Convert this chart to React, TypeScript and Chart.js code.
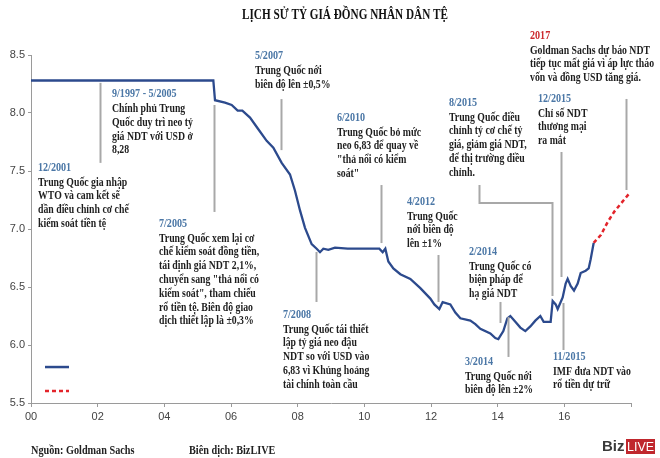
import React, { useEffect, useRef } from "react";
import { Chart, registerables } from "chart.js";

Chart.register(...registerables);

// ---- Data ----
const actualYears = [
  2000.0, 2005.47, 2005.52, 2005.82, 2006.02, 2006.2, 2006.34, 2006.57, 2006.82, 2007.07,
  2007.27, 2007.52, 2007.77, 2007.92, 2008.07, 2008.22, 2008.42, 2008.57, 2008.67, 2008.77,
  2008.92, 2009.12, 2009.5, 2010.0, 2010.45, 2010.55, 2010.63, 2010.72, 2010.87, 2011.08,
  2011.38, 2011.68, 2011.98, 2012.1, 2012.25, 2012.35, 2012.58, 2012.73, 2012.88, 2013.18,
  2013.33, 2013.48, 2013.78, 2013.93, 2014.02, 2014.17, 2014.29, 2014.38, 2014.53, 2014.68,
  2014.83, 2014.98, 2015.13, 2015.28, 2015.38, 2015.59, 2015.65, 2015.74, 2015.8, 2015.95,
  2016.04, 2016.1, 2016.19, 2016.29, 2016.4, 2016.49, 2016.64, 2016.73, 2016.79, 2016.88,
];
const actualRates = [
  8.28, 8.28, 8.11, 8.09, 8.07, 8.02, 8.02, 7.96, 7.86, 7.76,
  7.70, 7.57, 7.47, 7.33, 7.16, 7.01, 6.87, 6.83, 6.80, 6.83,
  6.82, 6.84, 6.83, 6.83, 6.83, 6.80, 6.83, 6.72, 6.66, 6.61,
  6.57, 6.49, 6.40, 6.35, 6.31, 6.37, 6.35, 6.28, 6.23, 6.21,
  6.18, 6.14, 6.10, 6.06, 6.05, 6.12, 6.23, 6.25, 6.20, 6.15,
  6.12, 6.16, 6.21, 6.25, 6.20, 6.20, 6.38, 6.35, 6.31, 6.41,
  6.53, 6.57, 6.51, 6.47, 6.53, 6.62, 6.64, 6.66, 6.74, 6.88,
];
const forecastYears = [2016.88, 2017.1, 2017.3, 2017.5, 2017.7, 2017.93];
const forecastRates = [6.88, 6.95, 7.06, 7.15, 7.22, 7.30];

const yTicks = [5.5, 6.0, 6.5, 7.0, 7.5, 8.0, 8.5];
const xTickLabels = ["00", "02", "04", "06", "08", "10", "12", "14", "16", ""];

const titleText = "LỊCH SỬ TỶ GIÁ ĐỒNG NHÂN DÂN TỆ";
const sourceText = "Nguồn: Goldman Sachs";
const translatorText = "Biên dịch: BizLIVE";

// Annotations (anchored in data coordinates: year, rate)
const notes = [
  { date: "9/1997 - 5/2005", x: 2002.43, y: 8.16, lines: ["Chính phủ Trung", "Quốc duy trì neo tỷ", "giá NDT với USD ở", "8,28"] },
  { date: "12/2001", x: 2000.21, y: 7.526, lines: ["Trung Quốc gia nhập", "WTO và cam kết sẽ", "dần điều chỉnh cơ chế", "kiểm soát tiền tệ"] },
  { date: "5/2007", x: 2006.72, y: 8.49, lines: ["Trung Quốc nới", "biên độ lên ±0,5%"] },
  { date: "7/2005", x: 2003.84, y: 7.043, lines: ["Trung Quốc xem lại cơ", "chế kiểm soát đồng tiền,", "tái định giá NDT 2,1%,", "chuyển sang \"thả nổi có", "kiểm soát\", tham chiếu", "rổ tiền tệ. Biên độ giao", "dịch thiết lập là ±0,3%"] },
  { date: "6/2010", x: 2009.18, y: 7.957, lines: ["Trung Quốc bỏ mức", "neo 6,83 để quay về", "\"thả nổi có kiểm", "soát\""] },
  { date: "4/2012", x: 2011.28, y: 7.233, lines: ["Trung Quốc", "nới biên độ", "lên ±1%"] },
  { date: "8/2015", x: 2012.54, y: 8.086, lines: ["Trung Quốc điều", "chỉnh tỷ cơ chế tỷ", "giá, giảm giá NDT,", "để thị trường điều", "chỉnh."] },
  { date: "12/2015", x: 2015.21, y: 8.121, lines: ["Chỉ số NDT", "thương mại", "ra mắt"] },
  { date: "2017", x: 2014.97, y: 8.664, lines: ["Goldman Sachs dự báo NDT", "tiếp tục mất giá vì áp lực tháo", "vốn và đồng USD tăng giá."], red: true },
  { date: "7/2008", x: 2007.56, y: 6.259, lines: ["Trung Quốc tái thiết", "lập tỷ giá neo đậu", "NDT so với USD vào", "6,83 vì Khủng hoảng", "tài chính toàn cầu"] },
  { date: "2/2014", x: 2013.14, y: 6.802, lines: ["Trung Quốc có", "biện pháp để", "hạ giá NDT"] },
  { date: "3/2014", x: 2013.02, y: 5.853, lines: ["Trung Quốc nới", "biên độ lên ±2%"] },
  { date: "11/2015", x: 2015.66, y: 5.897, lines: ["IMF đưa NDT vào", "rổ tiền dự trữ"] },
];

// Leader lines (polylines in data coordinates)
const leaders: number[][][] = [
  [[2002.07, 8.26], [2002.07, 7.57]],
  [[2007.5, 8.12], [2007.5, 7.68]],
  [[2005.49, 8.069], [2005.49, 7.147]],
  [[2010.5, 7.379], [2010.5, 6.879]],
  [[2012.21, 6.776], [2012.21, 6.371]],
  [[2013.44, 7.379], [2013.44, 7.224], [2015.63, 7.224], [2015.63, 6.422]],
  [[2015.9, 7.664], [2015.9, 6.586]],
  [[2017.85, 8.121], [2017.85, 7.336]],
  [[2008.55, 6.802], [2008.55, 6.371]],
  [[2014.07, 6.371], [2014.07, 6.19]],
  [[2014.31, 6.241], [2014.31, 5.897]],
  [[2015.96, 6.362], [2015.96, 5.957]],
];

const legendYears = [2000.42, 2001.14];
const legendRates = [5.81, 5.603];

const BLUE = "#2c4a8d";
const RED = "#e3242b";
const HEAD = "#4b77a6";
const TEXT = "#1e1e1e";
const FONT = "'Liberation Serif', serif";

function drawCondensed(ctx: CanvasRenderingContext2D, text: string, x: number, y: number, sx: number) {
  ctx.save();
  ctx.translate(x, y);
  ctx.scale(sx, 1);
  ctx.fillText(text, 0, 0);
  ctx.restore();
}

const decorPlugin = {
  id: "decor",
  afterDatasetsDraw(chart: any) {
    const ctx = chart.ctx as CanvasRenderingContext2D;
    const xs = chart.scales.x;
    const ys = chart.scales.y;
    ctx.save();
    // leaders
    ctx.strokeStyle = "#a8a8a8";
    ctx.lineWidth = 2;
    for (const poly of leaders) {
      ctx.beginPath();
      poly.forEach((p, i) => {
        const px = Math.round(xs.getPixelForValue(p[0])) + 0.5;
        const py = ys.getPixelForValue(p[1]);
        if (i === 0) ctx.moveTo(px, py);
        else ctx.lineTo(px, py);
      });
      ctx.stroke();
    }
    // legend swatches
    const lx0 = xs.getPixelForValue(legendYears[0]);
    const lx1 = xs.getPixelForValue(legendYears[1]);
    ctx.lineWidth = 2.5;
    ctx.strokeStyle = BLUE;
    ctx.beginPath();
    ctx.moveTo(lx0, ys.getPixelForValue(legendRates[0]));
    ctx.lineTo(lx1, ys.getPixelForValue(legendRates[0]));
    ctx.stroke();
    ctx.strokeStyle = RED;
    ctx.setLineDash([4, 3]);
    ctx.beginPath();
    ctx.moveTo(lx0, ys.getPixelForValue(legendRates[1]));
    ctx.lineTo(lx1, ys.getPixelForValue(legendRates[1]));
    ctx.stroke();
    ctx.setLineDash([]);

    // annotation texts
    ctx.textBaseline = "middle";
    ctx.textAlign = "left";
    for (const n of notes) {
      const px = xs.getPixelForValue(n.x);
      const py = ys.getPixelForValue(n.y);
      ctx.font = `bold 11.5px ${FONT}`;
      ctx.fillStyle = (n as any).red ? "#cc2a2e" : HEAD;
      drawCondensed(ctx, n.date, px, py, 0.88);
      ctx.fillStyle = TEXT;
      ctx.font = `bold 12px ${FONT}`;
      n.lines.forEach((l, i) => {
        drawCondensed(ctx, l, px, py + 14.5 + i * 13.8, 0.815);
      });
    }

    // title
    ctx.textAlign = "center";
    ctx.font = `bold 14.5px ${FONT}`;
    ctx.fillStyle = "#111";
    ctx.fillText(titleText, 345, 15, 206);

    // footer
    ctx.textAlign = "left";
    ctx.font = `bold 11.5px ${FONT}`;
    ctx.fillStyle = "#222";
    drawCondensed(ctx, sourceText, 31, 451, 0.89);
    drawCondensed(ctx, translatorText, 189, 451, 0.89);

    // logo
    ctx.font = "bold 15px 'Liberation Sans', sans-serif";
    ctx.fillStyle = "#3a3a3a";
    ctx.textAlign = "left";
    ctx.fillText("Biz", 602, 447);
    ctx.fillStyle = "#c0272d";
    ctx.fillRect(626, 439, 29, 15);
    ctx.fillStyle = "#fff";
    ctx.font = "13px 'Liberation Sans', sans-serif";
    ctx.fillText("LIVE", 627, 447, 27);
    ctx.restore();
  },
};

export default function App() {
  const ref = useRef<HTMLCanvasElement | null>(null);
  useEffect(() => {
    if (!ref.current) return;
    const actual = actualYears.map((x, i) => ({ x, y: actualRates[i] }));
    const forecast = forecastYears.map((x, i) => ({ x, y: forecastRates[i] }));
    const chart = new Chart(ref.current, {
      type: "line",
      data: {
        datasets: [
          { data: actual, borderColor: BLUE, borderWidth: 2.3, pointRadius: 0, tension: 0, fill: false },
          { data: forecast, borderColor: RED, borderWidth: 2.5, borderDash: [4, 3], pointRadius: 0, tension: 0, fill: false },
        ],
      },
      options: {
        responsive: false,
        animation: false,
        devicePixelRatio: 1,
        layout: { padding: { top: 55, right: 29, left: 0, bottom: 0 } },
        plugins: { legend: { display: false }, tooltip: { enabled: false }, title: { display: false } },
        scales: {
          x: {
            type: "linear",
            min: 2000,
            max: 2018,
            afterFit: (s: any) => { s.height = 55; },
            afterBuildTicks: (s: any) => {
              s.ticks = xTickLabels.map((_, i) => ({ value: 2000 + i * 2 }));
            },
            ticks: {
              autoSkip: false,
              maxRotation: 0,
              padding: 3,
              color: "#444",
              font: { family: "'Liberation Sans', sans-serif", size: 11 },
              callback: (v: any, i: number) => xTickLabels[i] ?? "",
            },
            grid: { drawOnChartArea: false, drawTicks: true, tickLength: 4, color: "#9a9a9a" },
            border: { display: true, color: "#9a9a9a" },
          },
          y: {
            type: "linear",
            min: 5.5,
            max: 8.5,
            afterFit: (s: any) => { s.width = 31; },
            afterBuildTicks: (s: any) => {
              s.ticks = yTicks.map((v) => ({ value: v }));
            },
            ticks: {
              padding: 3,
              color: "#444",
              font: { family: "'Liberation Sans', sans-serif", size: 11 },
              callback: (v: any) => Number(v).toFixed(1),
            },
            grid: { drawOnChartArea: false, drawTicks: true, tickLength: 3, color: "#9a9a9a" },
            border: { display: true, color: "#9a9a9a" },
          },
        },
      },
      plugins: [decorPlugin],
    } as any);
    return () => chart.destroy();
  }, []);
  return (
    <div style={{ position: "fixed", left: 0, top: 0, width: 660, height: 458, background: "#fff" }}>
      <canvas ref={ref} width={660} height={458} style={{ width: 660, height: 458, display: "block" }} />
    </div>
  );
}
